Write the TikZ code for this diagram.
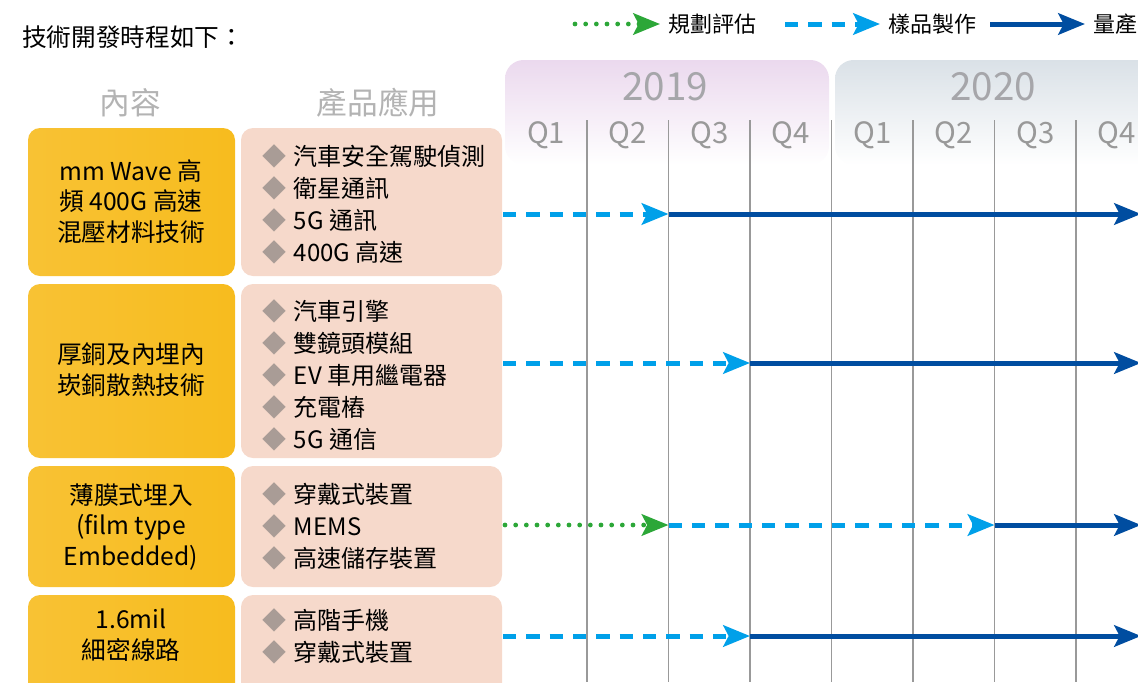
\documentclass[tikz,border=0pt]{standalone}
\usepackage{fontspec}
\setmainfont{Noto Sans CJK TC}
\usetikzlibrary{arrows.meta}
\definecolor{goldL}{HTML}{F8C234}
\definecolor{goldM}{HTML}{FDE18D}
\definecolor{goldR}{HTML}{F7BC1E}
\definecolor{peach}{HTML}{F6D9CB}
\definecolor{bulgray}{HTML}{A99C96}
\definecolor{headgray}{HTML}{B3B3B3}
\definecolor{yeargray}{HTML}{A6A6AA}
\definecolor{qgray}{HTML}{999999}
\definecolor{tabA}{HTML}{EBD9EE}
\definecolor{tabB}{HTML}{DAE1E7}
\definecolor{planGreen}{HTML}{2CA738}
\definecolor{sampleBlue}{HTML}{00A0E9}
\definecolor{massBlue}{HTML}{004DA0}
\newcommand{\bul}{{\color{bulgray}◆}\hspace{0.3em}}
\tikzset{
  techbox/.style={rounded corners=9pt, left color=goldL, middle color=goldM, right color=goldR},
  appbox/.style={rounded corners=9pt, fill=peach},
  techtext/.style={align=center, font=\fontsize{18.5}{23}\selectfont},
  apptext/.style={align=left, anchor=west, font=\fontsize{18}{24}\selectfont},
  gridline/.style={qgray, line width=1.1pt},
  tip/.style={-{Stealth[length=20pt,width=16pt,inset=4pt]}},
  plan/.style={tip, planGreen, line width=3.6pt, line cap=round, dash pattern=on 0pt off 8pt},
  sample/.style={tip, sampleBlue, line width=3.75pt, dash pattern=on 10pt off 7.5pt},
  mass/.style={tip, massBlue, line width=3.75pt}
}
\begin{document}
\begin{tikzpicture}[x=0.75pt, y=-0.75pt]
\useasboundingbox (0,0) rectangle (1138,682);
\clip (0,0) rectangle (1138,682);
%
\node[anchor=west, font=\fontsize{18.5}{20}\selectfont, inner sep=0pt] (title) at (22,37) {技術開發時程如下：};
% legend
\coordinate (lgA0) at (575,24); \coordinate (lgA1) at (660,24);
\coordinate (lgB0) at (785,24); \coordinate (lgB1) at (880,24);
\coordinate (lgC0) at (990,24); \coordinate (lgC1) at (1085,24);
\draw[plan] (lgA0) -- (lgA1);
\draw[sample] (lgB0) -- (lgB1);
\draw[mass] (lgC0) -- (lgC1);
\node[anchor=west, font=\fontsize{16.5}{20}\selectfont, inner sep=0pt] (lgA) at (668,24) {規劃評估};
\node[anchor=west, font=\fontsize{16.5}{20}\selectfont, inner sep=0pt] (lgB) at (888,24) {樣品製作};
\node[anchor=west, font=\fontsize{16.5}{20}\selectfont, inner sep=0pt] (lgC) at (1093,24) {量產};
% year tabs
\shade[top color=tabA, bottom color=white, rounded corners=14pt] (505,165) -- (505,60) -- (829,60) -- (829,165) -- cycle;
\shade[top color=tabB, bottom color=white, rounded corners=14pt] (835,165) -- (835,60) -- (1160,60) -- (1160,165) -- cycle;
\node[yeargray, font=\fontsize{29}{32}\selectfont] (y2019) at (665,87) {2019};
\node[yeargray, font=\fontsize{29}{32}\selectfont] (y2020) at (993,87) {2020};
\foreach \q [count=\i] in {Q1,Q2,Q3,Q4,Q1,Q2,Q3,Q4}
  \node[qgray, font=\fontsize{22}{24}\selectfont] (q\i) at ({505.5+81.5*(\i-0.5)},135) {\q};
\foreach \i in {1,...,7}
  \draw[gridline] ({505.5+81.5*\i},120) -- ({505.5+81.5*\i},682);
% column heads
\node[headgray, font=\fontsize{23}{26}\selectfont] (hcontent) at (130,103) {內容};
\node[headgray, font=\fontsize{23}{26}\selectfont] (happ) at (378,103) {產品應用};
% boxes
\shade[techbox] (28,128) rectangle (235,276);
\shade[techbox] (28,284) rectangle (235,458);
\shade[techbox] (28,466) rectangle (235,587);
\shade[techbox] (28,595) rectangle (235,700);
\fill[appbox] (241,128) rectangle (502,276);
\fill[appbox] (241,284) rectangle (502,458);
\fill[appbox] (241,466) rectangle (502,587);
\fill[appbox] (241,595) rectangle (502,700);
%
\node[techtext] (tech1) at (131,201.5) {mm Wave 高\\頻\ 400G 高速\\混壓材料技術};
\node[techtext] (tech2) at (131,370) {厚銅及內埋內\\崁銅散熱技術};
\node[techtext] (tech3) at (131,527) {薄膜式埋入\\(film type\\Embedded)};
\node[techtext] (tech4) at (131,635.5) {1.6mil\\細密線路};
%
\node[apptext] (app1) at (258,204) {\bul 汽車安全駕駛偵測\\\bul 衛星通訊\\\bul 5G 通訊\\\bul 400G 高速};
\node[apptext] (app2) at (258,375) {\bul 汽車引擎\\\bul 雙鏡頭模組\\\bul EV 車用繼電器\\\bul 充電樁\\\bul 5G 通信};
\node[apptext] (app3) at (258,526) {\bul 穿戴式裝置\\\bul MEMS\\\bul 高速儲存裝置};
\node[apptext] (app4) at (258,636) {\bul 高階手機\\\bul 穿戴式裝置};
% timelines
\coordinate (r1s) at (503,214); \coordinate (r1m) at (668.5,214); \coordinate (r1e) at (1141,214);
\coordinate (r2s) at (503,363); \coordinate (r2m) at (750,363);   \coordinate (r2e) at (1141,363);
\coordinate (r3s) at (505,525); \coordinate (r3a) at (668.5,525); \coordinate (r3b) at (994.5,525); \coordinate (r3e) at (1141,525);
\coordinate (r4s) at (503,636); \coordinate (r4m) at (750,636);   \coordinate (r4e) at (1141,636);
\draw[sample] (r1s) -- (r1m);
\draw[mass] (r1m) -- (r1e);
\draw[sample] (r2s) -- (r2m);
\draw[mass] (r2m) -- (r2e);
\draw[plan] (r3s) -- (r3a);
\draw[sample] (r3a) -- (r3b);
\draw[mass] (r3b) -- (r3e);
\draw[sample] (r4s) -- (r4m);
\draw[mass] (r4m) -- (r4e);
\end{tikzpicture}
\end{document}
